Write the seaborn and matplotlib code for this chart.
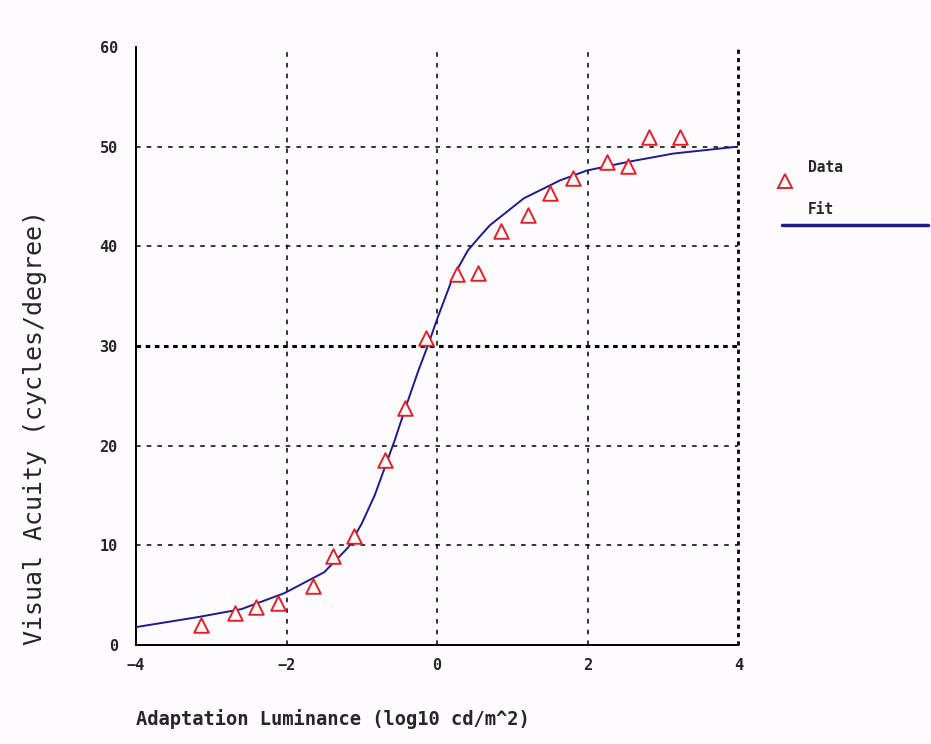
import numpy as np
import pandas as pd
import matplotlib
matplotlib.use("Agg")
import matplotlib.pyplot as plt
from matplotlib.lines import Line2D
import seaborn as sns

data_x = [-3.14, -2.68, -2.40, -2.11, -1.65, -1.38, -1.11, -0.69, -0.42, -0.15,
          0.27, 0.54, 0.85, 1.21, 1.50, 1.81, 2.25, 2.53, 2.82, 3.22]
data_y = [2.0, 3.2, 3.8, 4.2, 5.9, 8.9, 10.9, 18.6, 23.8, 30.8,
          37.2, 37.3, 41.5, 43.1, 45.3, 46.8, 48.5, 48.1, 51.0, 51.0]

# fitted curve
fit_x = [-4.0, -3.18, -2.6, -2.03, -1.5, -1.18, -1.0, -0.83, -0.69, -0.56,
         -0.42, -0.25, -0.12, 0.01, 0.21, 0.41, 0.57, 0.70, 1.15, 1.63,
         1.99, 2.56, 3.14, 4.0]
fit_y = [1.8, 2.8, 3.6, 5.2, 7.3, 9.8, 12.2, 15.0, 17.9, 20.6,
         23.8, 27.5, 30.1, 32.9, 36.9, 39.6, 41.0, 42.1, 44.8, 46.6,
         47.6, 48.5, 49.3, 50.0]

x_ticks = [-4, -2, 0, 2, 4]
y_ticks = [0, 10, 20, 30, 40, 50, 60]

df_data = pd.DataFrame({"x": data_x, "y": data_y})
df_fit = pd.DataFrame({"x": fit_x, "y": fit_y})

sns.set_style("white")
plt.rcParams["font.family"] = ["DejaVu Sans Mono", "DejaVu Sans"]

bg = "#fdfbfe"
navy = "#1c1c8a"
red = "#e0202a"

fig = plt.figure(figsize=(9.31, 7.44), dpi=100, facecolor=bg)
ax = fig.add_axes([0.146, 0.133, 0.647, 0.804], facecolor=bg)

# grid lines
for gx in [-2, 0, 2]:
    ax.axvline(gx, color="black", lw=1.1, ls=(0, (3, 4)), zorder=1)
ax.axvline(4, color="black", lw=2.0, ls=(0, (1.5, 1.5)), zorder=1,
           clip_on=False)
for gy in [10, 20, 40, 50]:
    ax.axhline(gy, color="black", lw=1.1, ls=(0, (3, 4)), zorder=1)
ax.axhline(30, color="black", lw=2.2, ls=(0, (1.5, 1.5)), zorder=1)

sns.lineplot(data=df_fit, x="x", y="y", ax=ax, color=navy, lw=1.4,
             sort=False, zorder=3)
sns.scatterplot(data=df_data, x="x", y="y", ax=ax, marker="^", s=110,
                facecolor="white", edgecolor=red, linewidth=1.4, zorder=4)

ax.set_xlim(-4, 4)
ax.set_ylim(0, 60)
ax.set_xticks(x_ticks)
ax.set_xticklabels(["\u22124", "\u22122", "0", "2", "4"])
ax.set_yticks(y_ticks)
ax.tick_params(axis="x", direction="inout", length=14, width=1.3, pad=2,
               labelsize=11)
ax.tick_params(axis="y", direction="inout", length=20, width=1.3, pad=3,
               labelsize=11)
for lab in ax.get_xticklabels() + ax.get_yticklabels():
    lab.set_fontweight("bold")

for side in ["top", "right"]:
    ax.spines[side].set_visible(False)
for side in ["left", "bottom"]:
    ax.spines[side].set_linewidth(1.4)
    ax.spines[side].set_color("black")

ax.set_xlabel("Adaptation Luminance (log10 cd/m^2)", fontsize=13.5,
              loc="left", labelpad=26)
ax.set_ylabel("Visual Acuity (cycles/degree)", fontsize=18, loc="bottom",
              labelpad=38)
ax.xaxis.label.set_fontweight("bold")
ax.yaxis.label.set_fontweight("normal")

# hand-placed legend to the right of the plot
fig.add_artist(Line2D([785 / 931], [1 - 181 / 744], marker="^", ms=10,
                      mfc="white", mec=red, mew=1.4, ls="none",
                      transform=fig.transFigure))
fig.text(808 / 931, 1 - 167 / 744, "Data", fontsize=10.5, fontweight="bold",
         va="center", ha="left")
fig.text(808 / 931, 1 - 210 / 744, "Fit", fontsize=10.5, fontweight="bold",
         va="center", ha="left")
fig.add_artist(Line2D([782 / 931, 928 / 931], [1 - 225 / 744, 1 - 225 / 744],
                      color=navy, lw=2.5, transform=fig.transFigure))

fig.savefig("out.png", dpi=100, facecolor=bg)
